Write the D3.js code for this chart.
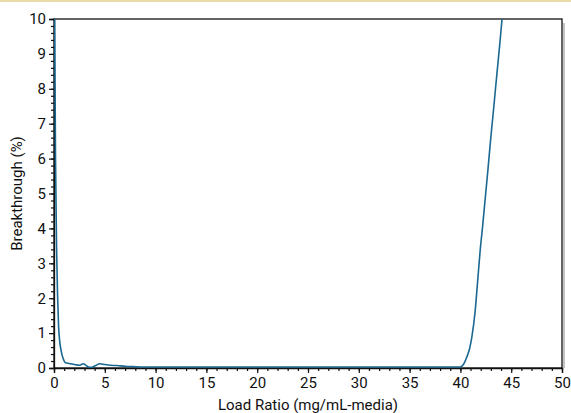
<!DOCTYPE html>
<html>
<head>
<meta charset="utf-8">
<script src="https://cdn.jsdelivr.net/npm/d3@7"></script>
<style>
  body { margin: 0; background: #fff; }
  text { font-family: "Roboto", sans-serif; fill: #111; }
</style>
</head>
<body>
<div id="chart"></div>
<script>
// Data
var loadRatio = [0.05, 0.15, 0.25, 0.35, 0.45, 0.55, 0.7, 0.9, 1.1, 1.5, 2, 2.5, 2.9, 3.1, 3.4, 3.7, 4.1, 4.5, 5, 5.5, 6.2, 7, 7.8, 9, 12, 15, 20, 25, 30, 35, 38, 39.98,
    40.3, 40.64, 40.9, 41.13, 41.46, 41.7, 41.95, 42.2, 42.44, 42.7, 42.93, 43.26, 43.6, 43.85, 44.09, 44.2];
var breakthrough = [10.6, 6.0, 3.5, 2.1, 1.2, 0.8, 0.5, 0.27, 0.16, 0.13, 0.1, 0.08, 0.12, 0.09, 0.03, 0.02, 0.07, 0.12, 0.1, 0.08, 0.07, 0.05, 0.04, 0.03, 0.03, 0.03, 0.03, 0.03, 0.03, 0.03, 0.03, 0.03,
    0.1, 0.32, 0.55, 0.89, 1.65, 2.5, 3.38, 4.1, 4.85, 5.65, 6.4, 7.4, 8.45, 9.2, 9.97, 10.3];

var xTicks = [0, 5, 10, 15, 20, 25, 30, 35, 40, 45, 50];
var yTicks = [0, 1, 2, 3, 4, 5, 6, 7, 8, 9, 10];

var svgWidth = 571;
var svgHeight = 413;
var margin = { top: 19, right: 9, bottom: 45, left: 54 };
var width = svgWidth - margin.left - margin.right;
var height = svgHeight - margin.top - margin.bottom;

var svg = d3.select("#chart").append("svg")
    .attr("width", svgWidth)
    .attr("height", svgHeight);

// top rule
svg.append("rect")
    .attr("x", 0).attr("y", 0)
    .attr("width", svgWidth).attr("height", 2)
    .attr("fill", "#e8dca6");

var g = svg.append("g")
    .attr("transform", `translate(${margin.left}, ${margin.top})`);

var x = d3.scaleLinear().domain([0, 50]).range([0, width]);
var y = d3.scaleLinear().domain([0, 10]).range([height, 0]);

// shadow on the right
g.append("rect")
    .attr("x", width + 1).attr("y", 4)
    .attr("width", 2).attr("height", height - 4)
    .attr("fill", "#c4c4c4");

// frame
g.append("rect")
    .attr("x", 0).attr("y", 0)
    .attr("width", width).attr("height", height)
    .attr("fill", "none")
    .attr("stroke", "#111")
    .attr("stroke-width", 1.3);

// minor ticks
g.append("g")
    .attr("transform", `translate(0, ${height})`)
    .call(d3.axisBottom(x).ticks(50).tickSize(3).tickFormat(""))
    .call(a => a.select(".domain").remove());
g.append("g")
    .call(d3.axisLeft(y).ticks(50).tickSize(3).tickFormat(""))
    .call(a => a.select(".domain").remove());

// major ticks
var xAxis = g.append("g")
    .attr("transform", `translate(0, ${height})`)
    .call(d3.axisBottom(x).tickValues(xTicks).tickSize(5).tickPadding(4));
var yAxis = g.append("g")
    .call(d3.axisLeft(y).tickValues(yTicks).tickSize(5).tickPadding(3));

[xAxis, yAxis].forEach(a => {
    a.select(".domain").attr("stroke", "#111").attr("stroke-width", 1.3);
    a.selectAll(".tick text").style("font-size", "15px").attr("fill", "#111");
});
g.selectAll(".tick line").attr("stroke", "#111").attr("stroke-width", 1.2);

// curve
var pts = loadRatio.map((v, i) => [v, breakthrough[i]]);
g.append("clipPath").attr("id", "clip")
    .append("rect").attr("width", width).attr("height", height);
g.append("path")
    .datum(pts)
    .attr("clip-path", "url(#clip)")
    .attr("fill", "none")
    .attr("stroke", "#1a6891")
    .attr("stroke-width", 1.6)
    .attr("d", d3.line().x(d => x(d[0])).y(d => y(d[1])).curve(d3.curveMonotoneX));

// axis labels
svg.append("text")
    .attr("x", margin.left + width / 2)
    .attr("y", 410)
    .attr("text-anchor", "middle")
    .style("font-size", "15px")
    .text("Load Ratio (mg/mL-media)");

svg.append("text")
    .attr("transform", `translate(22, ${margin.top + height / 2}) rotate(-90)`)
    .attr("text-anchor", "middle")
    .style("font-size", "15px")
    .text("Breakthrough (%)");
</script>
</body>
</html>
